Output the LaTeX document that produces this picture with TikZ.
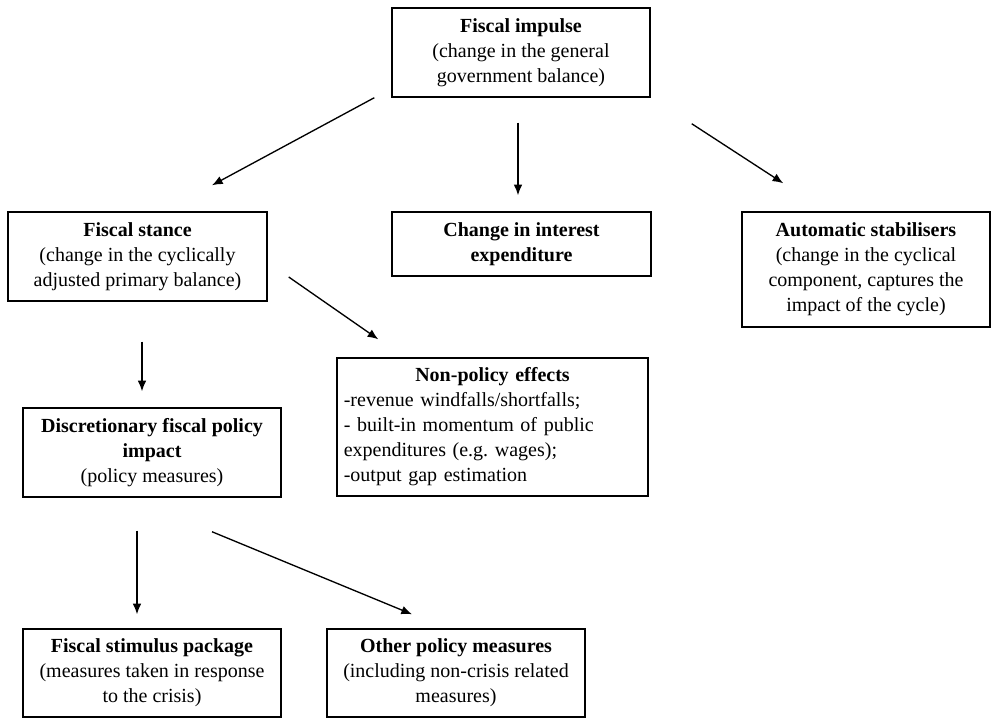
\documentclass[tikz,border=0pt]{standalone}
\usepackage{fontspec}
\setmainfont{Liberation Serif}
\usetikzlibrary{arrows.meta,calc}
\tikzset{
  >={Latex[length=8pt,width=6.5pt]},
  box/.style={rectangle,draw=black,line width=1.1pt,fill=white,inner sep=0pt,align=center,
    font=\fontsize{15}{18.75}\selectfont},
  boxleft/.style={box,align=left},
  flowarrow/.style={->,draw=black,line width=1pt},
}
\frenchspacing
\begin{document}
\begin{tikzpicture}[x=0.75pt,y=-0.75pt]
  \useasboundingbox (0,0) rectangle (992,718);

  % top level
  \node[box, minimum width=193.5pt, minimum height=66.75pt] (impulse) at (521,52.5)
    {\textbf{Fiscal impulse}\\(change in the general\\government balance)};

  % second level
  \node[box, minimum width=194.25pt, minimum height=66.75pt] (stance) at (137.5,256.5)
    {\textbf{Fiscal stance}\\(change in the cyclically\\adjusted primary balance)};
  \node[box, minimum width=194.25pt, minimum height=48pt] (interest) at (521.5,244)
    {\textbf{Change in interest}\\\textbf{expenditure}};
  \node[box, minimum width=186pt, minimum height=86.25pt] (auto) at (866,269.5)
    {\textbf{Automatic stabilisers}\\(change in the cyclical\\component, captures the\\impact of the cycle)};

  % third level
  \node[boxleft, text width=223pt, minimum width=233.25pt, minimum height=103.5pt] (nonpol) at (492.5,427)
    {\makebox[\linewidth][c]{\textbf{Non-policy effects}}\\-revenue windfalls/shortfalls;\\- built-in momentum of public\\expenditures (e.g. wages);\\-output gap estimation};
  \node[box, minimum width=193.5pt, minimum height=66.75pt] (discr) at (152,452.5)
    {\textbf{Discretionary fiscal policy}\\\textbf{impact}\\(policy measures)};

  % bottom level
  \node[box, minimum width=193.5pt, minimum height=66pt] (stimulus) at (152,673)
    {\textbf{Fiscal stimulus package}\\(measures taken in response\\to the crisis)};
  \node[box, minimum width=193.5pt, minimum height=66pt] (other) at (456,673)
    {\textbf{Other policy measures}\\(including non-crisis related\\measures)};

  % connectors (free standing, offset from the boxes)
  \coordinate (impS) at ($(impulse.south west)+(-17,0)$);
  \coordinate (impE) at ($(stance.north)+(74.5,-26)$);
  \draw[flowarrow] (impS) -- (impE);
  \draw[flowarrow] ($(impulse.south)+(-3,25)$) -- ($(interest.north)+(-3.5,-16)$);
  \draw[flowarrow] ($(impulse.south east)+(41,26)$) -- ($(auto.north west)+(42,-28)$);
  \draw[flowarrow] ($(stance.east)+(21,20.5)$) -- ($(nonpol.north west)+(42,-18)$);
  \draw[flowarrow] ($(stance.south)+(4.5,40)$) -- ($(discr.north)+(-10,-16)$);
  \draw[flowarrow] ($(discr.south)+(-15,33)$) -- ($(stimulus.north)+(-15,-14)$);
  \draw[flowarrow] ($(discr.south)+(60,34)$) -- ($(other.north)+(-44,-14)$);
\end{tikzpicture}
\end{document}
